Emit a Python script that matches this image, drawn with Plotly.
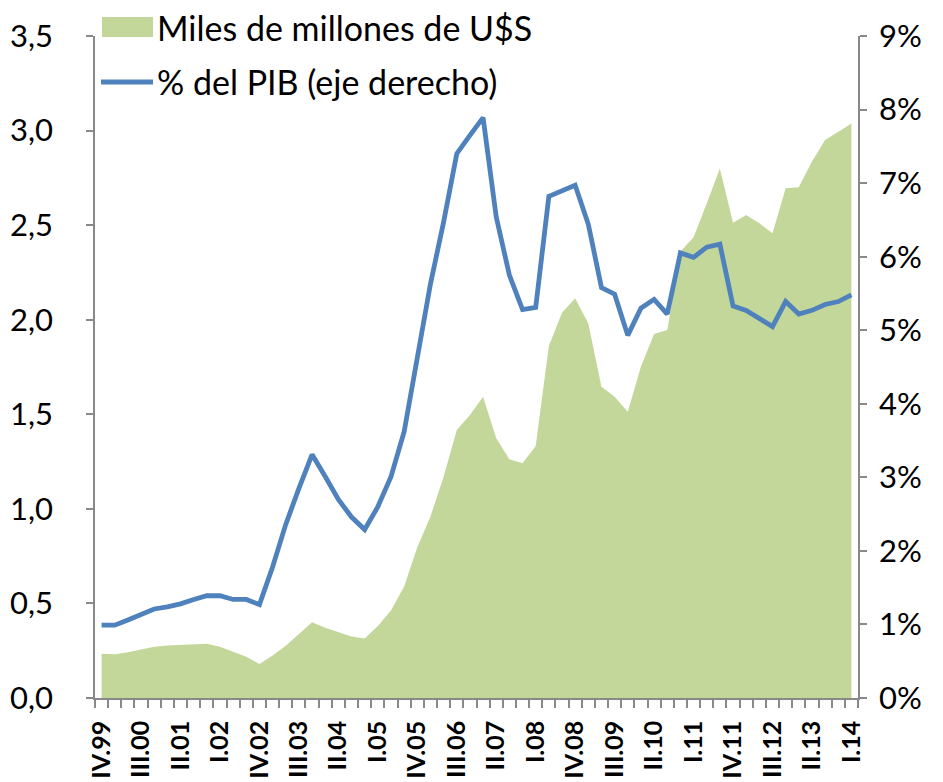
import plotly.graph_objects as go

quarters = ["IV.99",
            "I.00", "II.00", "III.00", "IV.00",
            "I.01", "II.01", "III.01", "IV.01",
            "I.02", "II.02", "III.02", "IV.02",
            "I.03", "II.03", "III.03", "IV.03",
            "I.04", "II.04", "III.04", "IV.04",
            "I.05", "II.05", "III.05", "IV.05",
            "I.06", "II.06", "III.06", "IV.06",
            "I.07", "II.07", "III.07", "IV.07",
            "I.08", "II.08", "III.08", "IV.08",
            "I.09", "II.09", "III.09", "IV.09",
            "I.10", "II.10", "III.10", "IV.10",
            "I.11", "II.11", "III.11", "IV.11",
            "I.12", "II.12", "III.12", "IV.12",
            "I.13", "II.13", "III.13", "IV.13",
            "I.14"]

usd_bn = [0.234, 0.231, 0.242, 0.257, 0.271, 0.277, 0.280, 0.287, 0.287, 0.271,
          0.245, 0.218, 0.180, 0.225, 0.276, 0.338, 0.400, 0.371, 0.347, 0.325,
          0.315, 0.381, 0.463, 0.590, 0.797, 0.960, 1.170, 1.417, 1.496, 1.593,
          1.373, 1.262, 1.241, 1.332, 1.861, 2.037, 2.113, 1.980, 1.646, 1.593,
          1.514, 1.752, 1.925, 1.946, 2.360, 2.436, 2.615, 2.800, 2.513, 2.554,
          2.510, 2.457, 2.695, 2.700, 2.836, 2.950, 2.994, 3.038]

pct_gdp = [0.99, 0.99, 1.06, 1.14, 1.21, 1.24, 1.28, 1.34, 1.39, 1.39,
           1.34, 1.34, 1.27, 1.78, 2.36, 2.85, 3.31, 3.01, 2.70, 2.46,
           2.29, 2.60, 3.01, 3.62, 4.60, 5.63, 6.47, 7.40, 7.65, 7.89,
           6.54, 5.75, 5.28, 5.31, 6.82, 6.90, 6.97, 6.44, 5.58, 5.49,
           4.93, 5.30, 5.42, 5.22, 6.05, 5.99, 6.13, 6.17, 5.33, 5.27,
           5.16, 5.05, 5.39, 5.22, 5.27, 5.35, 5.39, 5.48]

left_ticks = [0, 0.5, 1.0, 1.5, 2.0, 2.5, 3.0, 3.5]
left_labels = ["0,0", "0,5", "1,0", "1,5", "2,0", "2,5", "3,0", "3,5"]
right_ticks = [0, 1, 2, 3, 4, 5, 6, 7, 8, 9]
right_labels = ["0%", "1%", "2%", "3%", "4%", "5%", "6%", "7%", "8%", "9%"]
label_step = 3

name_usd = "Miles de millones de U$S"
name_pct = "% del PIB (eje derecho)"

GREEN = "#C4D79B"
BLUE = "#4F81BD"
AXIS = "#898989"
FONT = "Lato"

# page body has an 8px margin: compensate so the plot lands where intended
OFF = 8
SCR_W, SCR_H = 943, 782
PL, PR, PT, PB = 95, 858, 36, 698          # plot box in screen pixels
W, H = SCR_W - OFF, SCR_H - OFF
L, T = PL - OFF, PT - OFF
R, B = SCR_W - PR, SCR_H - PB
pw, ph = PR - PL, PB - PT


def px(x):
    return (x - PL) / pw


def py(y):
    return (PB - y) / ph


xs = list(range(len(quarters)))

fig = go.Figure()
fig.add_trace(go.Scatter(x=xs, y=usd_bn, name=name_usd, mode="lines",
                         fill="tozeroy", fillcolor=GREEN,
                         line=dict(width=0, color=GREEN), yaxis="y",
                         showlegend=False))
fig.add_trace(go.Scatter(x=xs, y=pct_gdp, name=name_pct, mode="lines",
                         line=dict(width=4.8, color=BLUE), yaxis="y2",
                         showlegend=False))

# manual legend
fig.add_shape(type="rect", xref="paper", yref="paper",
              x0=px(102), x1=px(153), y0=py(37), y1=py(17),
              fillcolor=GREEN, line=dict(width=0))
fig.add_shape(type="line", xref="paper", yref="paper",
              x0=px(101), x1=px(153), y0=py(82), y1=py(82),
              line=dict(color=BLUE, width=4.8))
fig.add_annotation(xref="paper", yref="paper", x=px(156), y=py(27),
                   xanchor="left", yanchor="middle", text=name_usd,
                   showarrow=False, borderpad=0,
                   font=dict(family=FONT, size=34, color="black"))
fig.add_annotation(xref="paper", yref="paper", x=px(156), y=py(82),
                   xanchor="left", yanchor="middle", text=name_pct,
                   showarrow=False, borderpad=0,
                   font=dict(family=FONT, size=34, color="black"))

fig.update_layout(
    width=W, height=H,
    margin=dict(l=L, r=R, t=T, b=B, autoexpand=False),
    paper_bgcolor="white", plot_bgcolor="white",
    showlegend=False,
    font=dict(family=FONT, color="black"),
    xaxis=dict(
        range=[-0.5, len(quarters) - 0.5],
        automargin=False,
        tickmode="array",
        tickvals=xs[::label_step],
        ticktext=quarters[::label_step],
        tickangle=-90,
        ticks="outside", ticklen=8, tickcolor="rgba(0,0,0,0)",
        ticklabelstandoff=3,
        tickfont=dict(family=FONT, size=25, color="black", weight="bold"),
        showline=True, linecolor=AXIS, linewidth=1.5,
        showgrid=False, zeroline=False,
        minor=dict(ticks="outside", tick0=-0.5, dtick=1, ticklen=8,
                   tickcolor=AXIS, tickwidth=1.5, showgrid=False),
    ),
    yaxis=dict(
        range=[0, 3.5],
        automargin=False,
        tickmode="array", tickvals=left_ticks, ticktext=left_labels,
        ticks="outside", ticklen=7, tickcolor=AXIS, tickwidth=1.5,
        ticklabelstandoff=27,
        tickfont=dict(family=FONT, size=31, color="black"),
        showline=True, linecolor=AXIS, linewidth=1.5,
        showgrid=False, zeroline=False,
    ),
    yaxis2=dict(
        range=[0, 9], overlaying="y", side="right",
        automargin=False,
        tickmode="array", tickvals=right_ticks, ticktext=right_labels,
        ticks="outside", ticklen=7, tickcolor=AXIS, tickwidth=1.5,
        ticklabelstandoff=6,
        tickfont=dict(family=FONT, size=31, color="black"),
        showline=True, linecolor=AXIS, linewidth=1.5,
        showgrid=False, zeroline=False,
    ),
)

fig.write_html("out.html")
